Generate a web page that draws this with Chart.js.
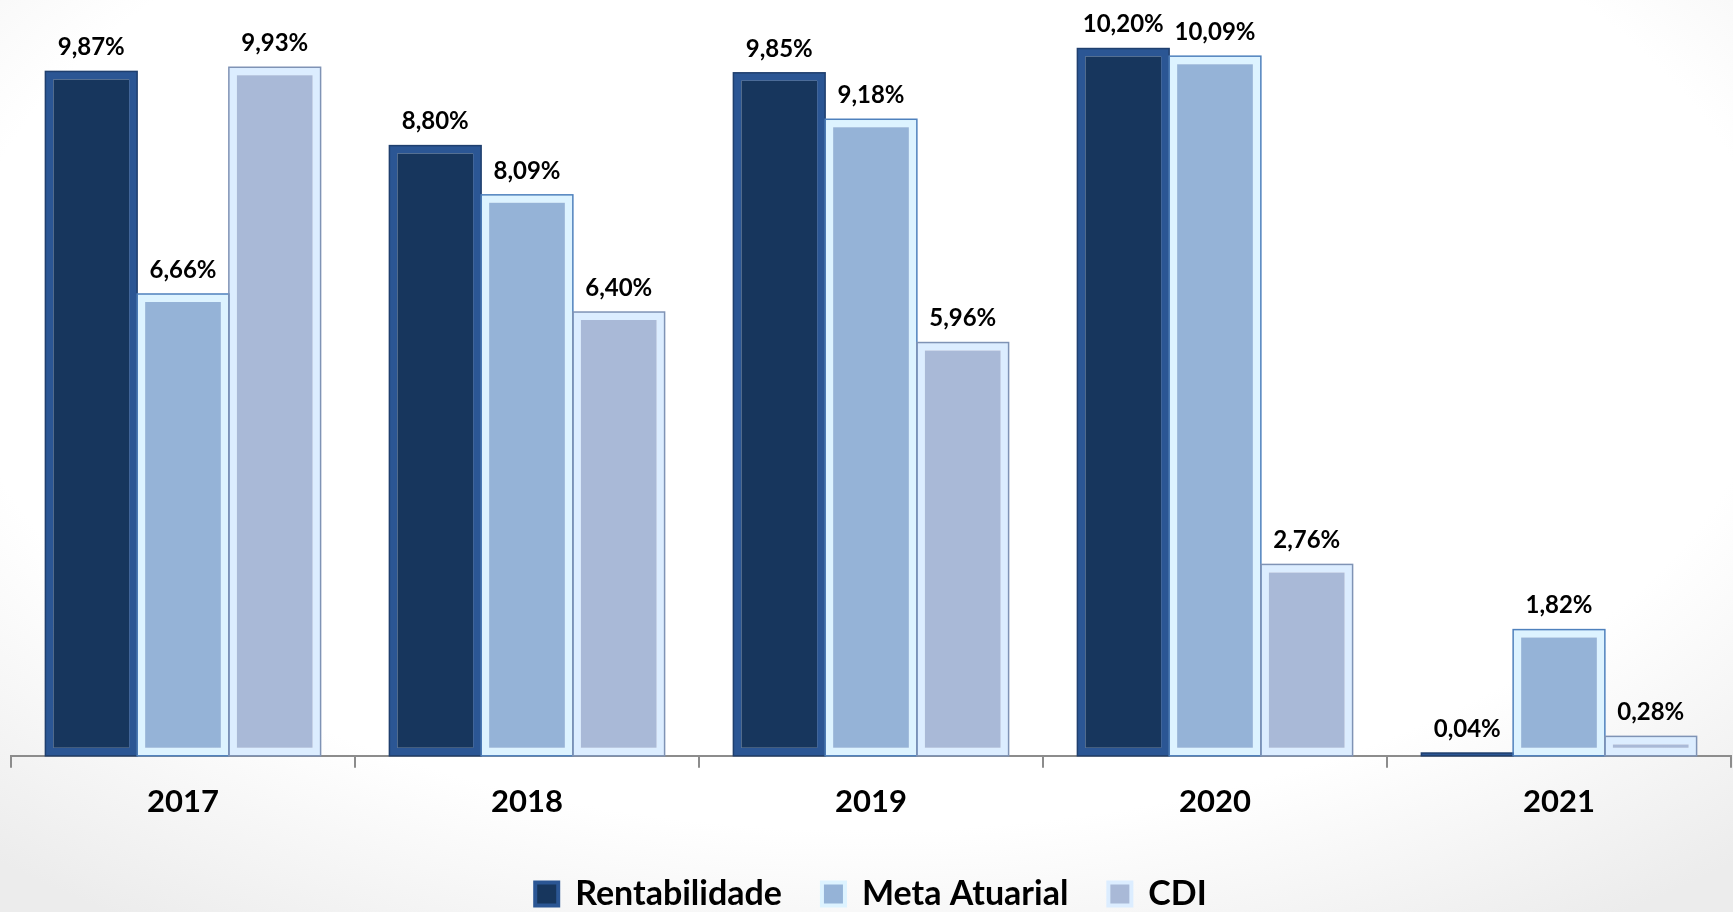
<!DOCTYPE html>
<html>
<head>
<meta charset="utf-8">
<script src="https://cdn.jsdelivr.net/npm/chart.js@4.4.1/dist/chart.umd.min.js"></script>
<style>
  html, body { margin: 0; padding: 0; }
  body {
    width: 1733px; height: 912px; overflow: hidden;
    background: radial-gradient(ellipse 75% 80% at 50% 35%, #ffffff 70%, #ececec 100%);
  }
  #wrap { position: relative; width: 1733px; height: 912px; }
</style>
</head>
<body>
<div id="wrap"><canvas id="chart"></canvas></div>
<script>
const anos = ['2017', '2018', '2019', '2020', '2021'];
const rentabilidade = [9.87, 8.80, 9.85, 10.20, 0.04];
const metaAtuarial = [6.66, 8.09, 9.18, 10.09, 1.82];
const cdi = [9.93, 6.40, 5.96, 2.76, 0.28];

const fontFamily = 'Lato, "Open Sans", sans-serif';
const outlines = ['#1f3f6e', '#4f81bd', '#7f93b5'];

const fmt = v => v.toFixed(2).replace('.', ',') + '%';

// contorno fino + rótulos de valor acima das barras
const barExtras = {
    id: 'barExtras',
    afterDatasetsDraw(chart) {
        const c = chart.ctx;
        c.save();
        chart.data.datasets.forEach((ds, i) => {
            const meta = chart.getDatasetMeta(i);
            meta.data.forEach((bar, j) => {
                const p = bar.getProps(['x', 'y', 'base', 'width'], true);
                c.strokeStyle = outlines[i];
                c.lineWidth = 1.5;
                c.strokeRect(p.x - p.width / 2, p.y, p.width, p.base - p.y);
                c.fillStyle = '#000';
                c.font = 'bold 24px ' + fontFamily;
                c.textAlign = 'center';
                c.textBaseline = 'bottom';
                c.fillText(fmt(ds.data[j]), p.x, p.y - 12);
            });
        });
        c.restore();
    }
};

new Chart(document.getElementById('chart'), {
    type: 'bar',
    data: {
        labels: anos,
        datasets: [
            {
                label: 'Rentabilidade',
                data: rentabilidade,
                backgroundColor: '#17365d',
                borderColor: '#2b5694',
                borderWidth: 8,
                borderSkipped: false
            },
            {
                label: 'Meta Atuarial',
                data: metaAtuarial,
                backgroundColor: '#95b3d7',
                borderColor: '#ddf3ff',
                borderWidth: 8,
                borderSkipped: false
            },
            {
                label: 'CDI',
                data: cdi,
                backgroundColor: '#a9b9d7',
                borderColor: '#dcedff',
                borderWidth: 8,
                borderSkipped: false
            }
        ]
    },
    options: {
        responsive: true,
        maintainAspectRatio: false,
        animation: false,
        layout: { padding: { left: 11, right: 2, top: 0, bottom: -9 } },
        datasets: { bar: { categoryPercentage: 0.8, barPercentage: 1.0 } },
        plugins: {
            tooltip: { enabled: false },
            legend: {
                position: 'bottom',
                labels: {
                    color: '#000',
                    font: { family: fontFamily, size: 34, weight: 'bold' },
                    boxWidth: 23,
                    boxHeight: 23,
                    padding: 40,
                    generateLabels(chart) {
                        return chart.data.datasets.map((ds, i) => ({
                            text: ds.label,
                            fillStyle: ds.backgroundColor,
                            strokeStyle: ds.borderColor,
                            lineWidth: 4,
                            fontColor: '#000',
                            datasetIndex: i
                        }));
                    }
                }
            }
        },
        scales: {
            x: {
                border: { display: true, color: '#8c8c8c', width: 2 },
                grid: { display: true, drawOnChartArea: false, drawTicks: true, tickLength: 12, color: '#8c8c8c', lineWidth: 2 },
                ticks: { color: '#000', padding: 16, font: { family: fontFamily, size: 31, weight: 'bold' } }
            },
            y: {
                display: false,
                min: 0,
                max: 10.9
            }
        }
    },
    plugins: [barExtras]
});
</script>
</body>
</html>
